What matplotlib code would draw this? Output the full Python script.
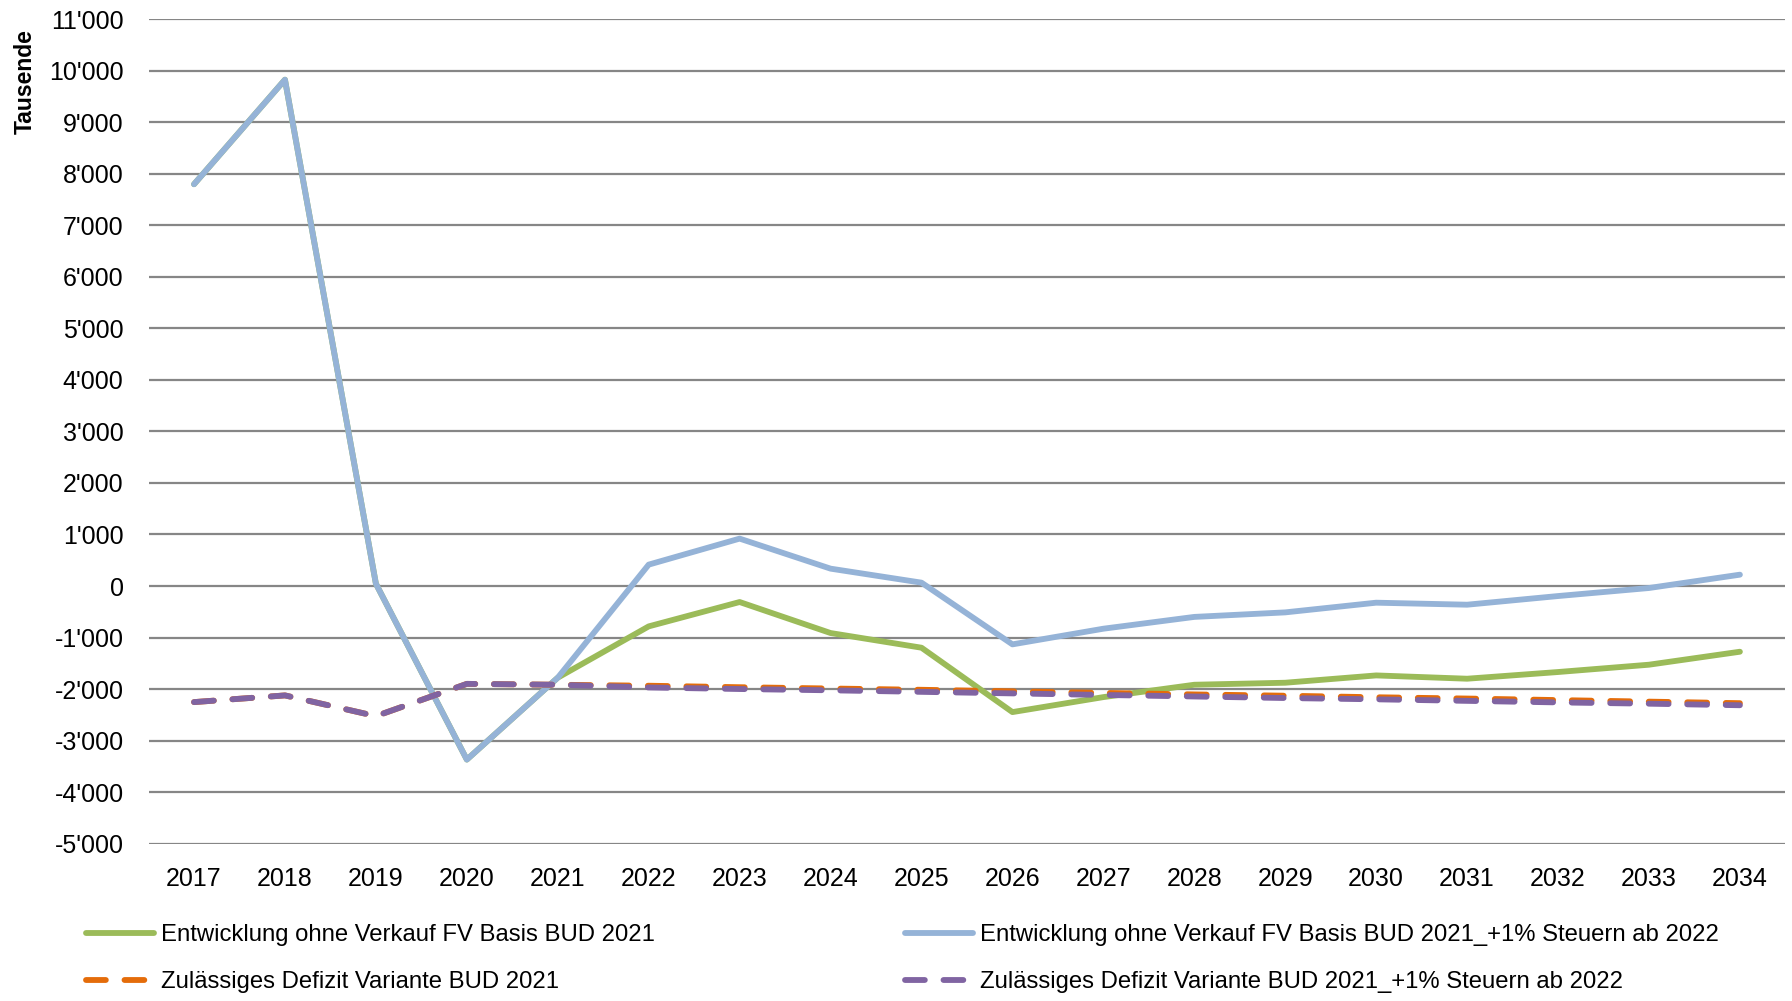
import matplotlib
matplotlib.use("Agg")
from matplotlib import pyplot as plt
from matplotlib.ticker import FuncFormatter
from matplotlib.lines import Line2D

years = [str(y) for y in range(2017, 2035)]

# values in Tausende
entwicklung_bud = [7800, 9830, 45, -3370, -1780, -784, -311, -913, -1198, -2448,
                   -2157, -1917, -1878, -1736, -1800, -1670, -1528, -1276]
entwicklung_steuern = [7800, 9830, 45, -3370, -1780, 415, 920, 337, 65, -1133,
                       -829, -600, -512, -324, -363, -195, -39, 220]
defizit_bud = [-2254, -2124, -2526, -1900, -1917, -1936, -1965, -1990, -2015, -2045,
               -2075, -2105, -2130, -2160, -2185, -2215, -2245, -2275]
defizit_steuern = [-2254, -2124, -2526, -1900, -1917, -1970, -2000, -2025, -2055, -2085,
                   -2115, -2145, -2175, -2200, -2230, -2260, -2285, -2315]

labels = ["Entwicklung ohne Verkauf FV Basis BUD 2021",
          "Entwicklung ohne Verkauf FV Basis BUD 2021_+1% Steuern ab 2022",
          "Zulässiges Defizit Variante BUD 2021",
          "Zulässiges Defizit Variante BUD 2021_+1% Steuern ab 2022"]

green = '#9BBB59'
blue = '#95B3D7'
orange = '#E46C0A'
purple = '#8064A2'

plt.rcParams['font.family'] = ['Liberation Sans', 'DejaVu Sans']

fig = plt.figure(figsize=(17.92, 10.01), dpi=100)
ax = fig.add_axes([0.0829, 0.1573, 0.9134, 0.8233])

x = list(range(len(years)))
lw = 4.2
dash = (0, (3.4, 3.2))
ax.plot(x, entwicklung_bud, c=green, lw=lw, solid_capstyle='round', solid_joinstyle='round', zorder=3)
ax.plot(x, entwicklung_steuern, c=blue, lw=lw, solid_capstyle='round', solid_joinstyle='round', zorder=4)
ax.plot(x, defizit_bud, c=orange, lw=lw, ls=dash, dash_capstyle='round', zorder=5)
ax.plot(x, defizit_steuern, c=purple, lw=lw, ls=dash, dash_capstyle='round', zorder=6)

ax.set_xlim(-0.5, len(years) - 0.5)
ax.set_ylim(-5000, 11000)
ax.set_yticks(range(-5000, 11001, 1000))
ax.yaxis.set_major_formatter(FuncFormatter(lambda v, p: f"{int(v):,}".replace(",", "'")))
ax.set_xticks(x)
ax.set_xticklabels(years)
ax.tick_params(axis='both', which='major', labelsize=18, length=0)
ax.tick_params(axis='y', pad=18)
ax.tick_params(axis='x', pad=17)
ax.grid(axis='y', color='#868686', lw=1.6, zorder=1)
ax.set_axisbelow(True)
for s in ax.spines.values():
    s.set_visible(False)

fig.text(25 / 1792, 1 - 29 / 1001, "Tausende", rotation=90, ha='center', va='top',
         fontsize=16.5, fontweight='bold')

def handle(c, dashed):
    if dashed:
        return Line2D([], [], c=c, lw=lw, ls=dash, dash_capstyle='round')
    return Line2D([], [], c=c, lw=lw, solid_capstyle='round')

leg_kw = dict(loc='upper left', frameon=False, fontsize=17.2, borderpad=0, borderaxespad=0,
              handlelength=2.85, handletextpad=0.3, labelspacing=1.05)
leg1 = fig.legend([handle(green, False), handle(orange, True)], [labels[0], labels[2]],
                  bbox_to_anchor=(86 / 1792, 1 - 924 / 1001), **leg_kw)
leg2 = fig.legend([handle(blue, False), handle(purple, True)], [labels[1], labels[3]],
                  bbox_to_anchor=(905 / 1792, 1 - 924 / 1001), **leg_kw)

plt.savefig("out.png", dpi=100)
